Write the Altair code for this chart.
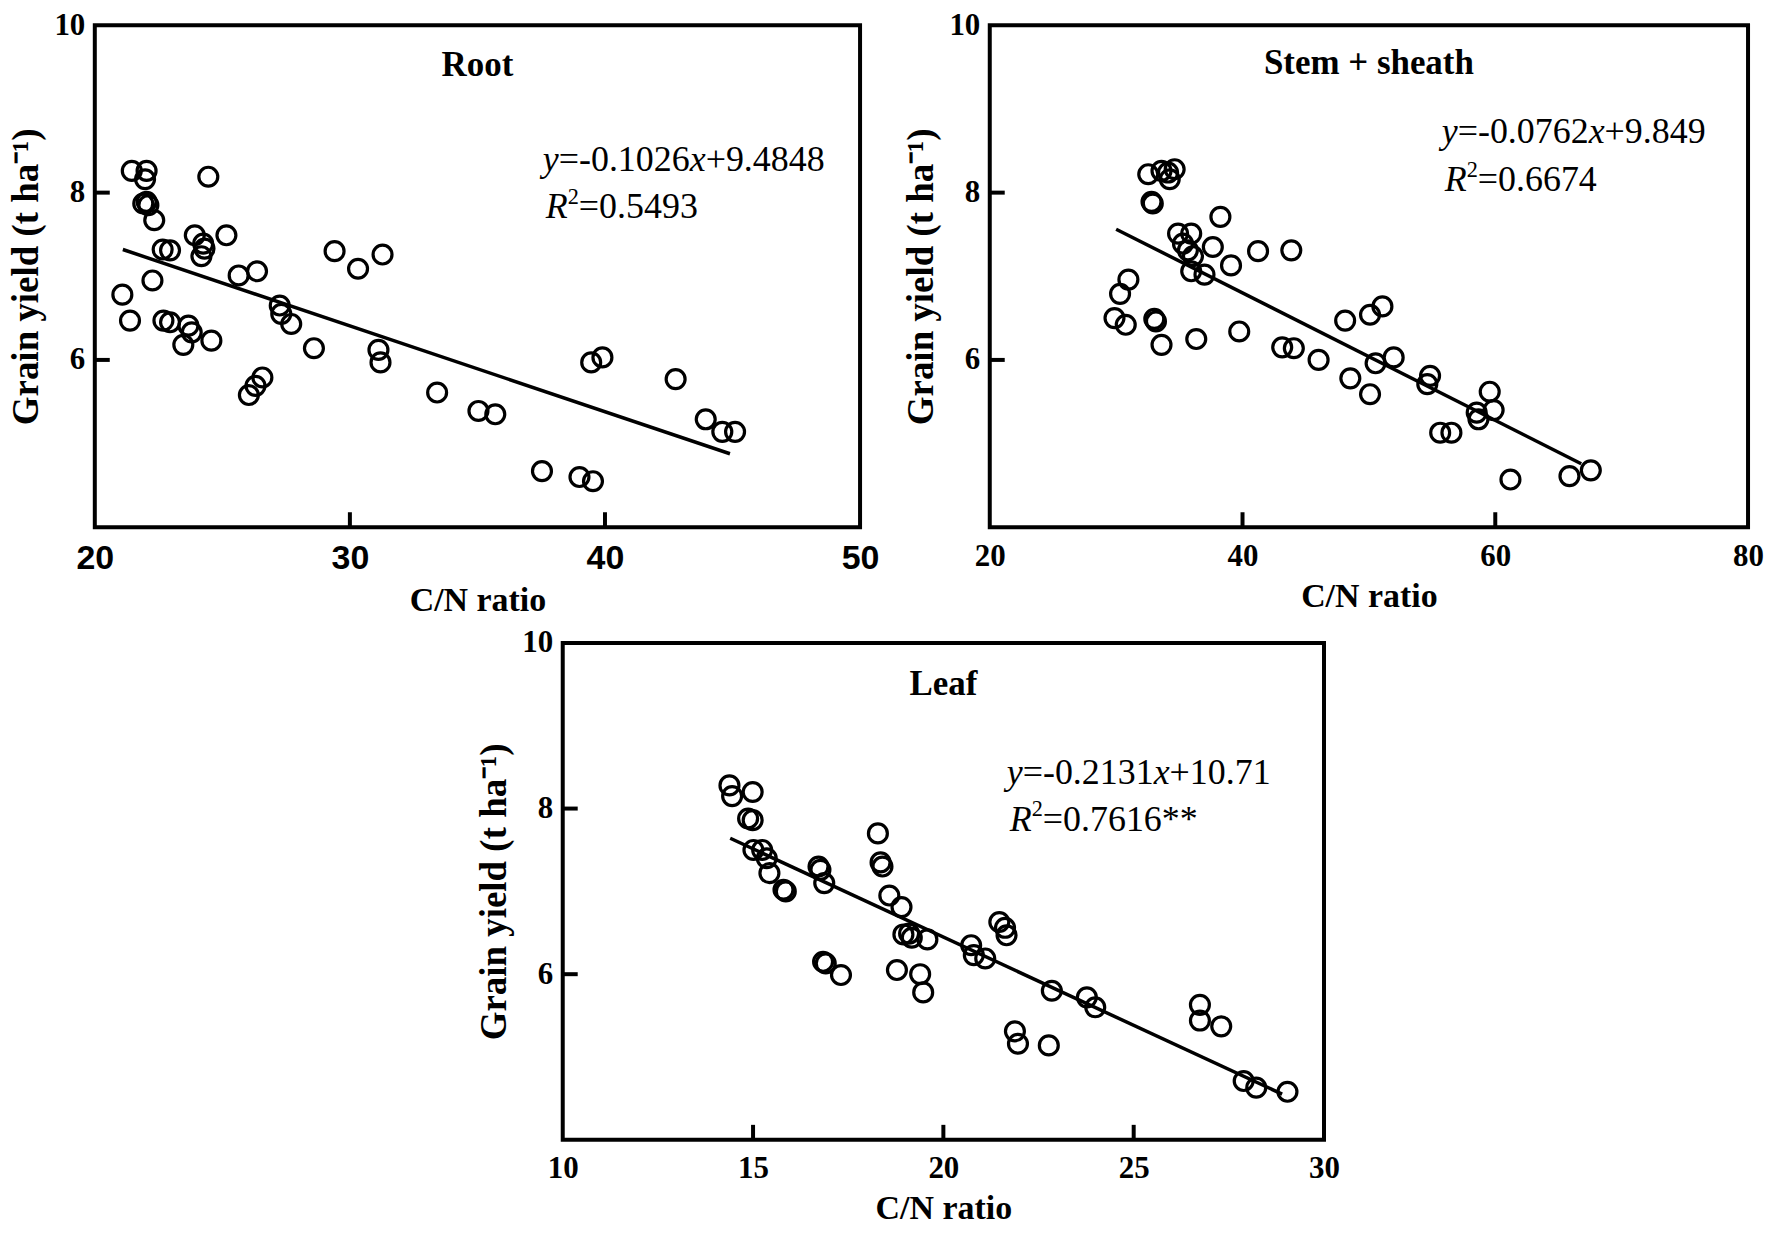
import altair as alt
import pandas as pd

SERIF = "Liberation Serif"
SANS = "Liberation Sans"

# ---- data ----
root_cn = [21.45, 22.03, 21.97, 21.9, 22.1, 22.03, 22.33, 24.45, 22.66, 22.95,
           23.92, 24.25, 24.18, 24.3, 25.16, 22.26, 21.08, 21.38, 22.69, 22.95,
           23.67, 23.8, 23.47, 24.57, 25.64, 26.36, 27.25, 27.31, 27.7, 28.59,
           29.4, 30.32, 31.28, 31.12, 31.2, 26.04, 26.3, 26.57, 33.42, 35.04,
           35.7, 37.53, 39.0, 39.53, 39.46, 39.9, 42.77, 43.95, 44.6, 45.1]
root_yield = [8.26, 8.26, 8.16, 7.87, 7.85, 7.89, 7.67, 8.19, 7.32, 7.31,
              7.49, 7.39, 7.24, 7.33, 7.49, 6.95, 6.78, 6.47, 6.47, 6.45,
              6.41, 6.33, 6.18, 6.23, 7.01, 7.06, 6.65, 6.55, 6.43, 6.14,
              7.3, 7.09, 7.26, 6.12, 5.97, 5.58, 5.69, 5.79, 5.61, 5.39,
              5.35, 4.67, 4.6, 4.55, 5.97, 6.03, 5.77, 5.29, 5.14, 5.14]

stem_cn = [32.54, 33.59, 34.24, 34.63, 34.11, 32.8, 32.9, 38.25, 34.9, 35.94,
           35.29, 35.68, 36.08, 37.65, 35.94, 36.99, 39.09, 41.23, 43.86, 30.97,
           30.31, 29.87, 30.76, 33.02, 33.15, 33.59, 36.34, 39.74, 43.14, 44.06,
           46.02, 48.12, 48.53, 50.09, 51.07, 50.53, 51.96, 50.09, 54.84, 54.62,
           58.53, 58.67, 59.56, 59.87, 55.64, 56.53, 61.2, 65.87, 67.56]
stem_yield = [8.22, 8.26, 8.16, 8.28, 8.24, 7.89, 7.87, 7.71, 7.51, 7.51,
              7.39, 7.31, 7.24, 7.35, 7.06, 7.02, 7.13, 7.3, 7.31, 6.96,
              6.79, 6.5, 6.42, 6.49, 6.46, 6.18, 6.25, 6.34, 6.15, 6.14,
              6.0, 6.47, 5.78, 6.54, 6.64, 5.96, 6.03, 5.59, 5.81, 5.71,
              5.37, 5.29, 5.62, 5.4, 5.13, 5.13, 4.57, 4.61, 4.68]

leaf_cn = [14.38, 14.45, 14.99, 14.87, 14.99, 15.01, 15.24, 15.36, 15.43, 15.8,
           15.86, 16.72, 16.77, 16.87, 16.84, 16.91, 17.31, 18.28, 18.35, 18.4,
           18.58, 18.9, 18.95, 19.1, 19.17, 19.58, 18.78, 19.39, 19.47, 20.73,
           20.8, 21.1, 21.47, 21.62, 21.66, 21.88, 21.96, 22.77, 22.85, 23.77,
           23.99, 26.74, 26.74, 27.3, 27.89, 28.22, 29.04]
leaf_yield = [8.28, 8.15, 8.2, 7.88, 7.86, 7.5, 7.5, 7.4, 7.22, 7.02,
              7.0, 7.3, 7.26, 7.1, 6.15, 6.13, 5.99, 7.7, 7.35, 7.3,
              6.95, 6.81, 6.48, 6.49, 6.44, 6.42, 6.05, 6.0, 5.78, 6.35,
              6.23, 6.19, 6.63, 6.56, 6.47, 5.31, 5.16, 5.14, 5.8, 5.72,
              5.6, 5.63, 5.44, 5.37, 4.71, 4.63, 4.58]

# fitted lines: slope, intercept, first x, last x
root_fit = (-0.1026, 9.4848, 21.1, 44.9)
stem_fit = (-0.0762, 9.849, 30.0, 66.8)
leaf_fit = (-0.2131, 10.71, 14.4, 28.9)

root_eq = ("-0.1026", "9.4848", "0.5493")
stem_eq = ("-0.0762", "9.849", "0.6674")
leaf_eq = ("-0.2131", "10.71", "0.7616**")

ONE = pd.DataFrame({"k": [0]})

# Times-like advance widths (per 1000 em) for placing mixed-style text
GLYPH_W = {".": 250, "=": 564, "-": 333, "+": 564, "*": 500, "y": 444, "x": 444, "R": 611}


def text_width(s, size):
    return sum(GLYPH_W.get(c, 500) for c in s) * size / 1000.0


def piece(txt, x, y, size, style="normal"):
    return alt.Chart(ONE).mark_text(
        text=txt, font=SERIF, fontSize=size, fontStyle=style,
        align="left", baseline="alphabetic", color="black"
    ).encode(x=alt.value(x), y=alt.value(y))


def equation(eq, x0, y0, rx, ry, size=36):
    slope, icpt, r2 = eq
    layers = []
    cur = x0
    for txt, style in [("y", "italic"), ("=" + slope, "normal"),
                       ("x", "italic"), ("+" + icpt, "normal")]:
        layers.append(piece(txt, cur, y0, size, style))
        cur += text_width(txt, size)
    cur = rx
    layers.append(piece("R", cur, ry, size, "italic"))
    cur += text_width("R", size)
    sup = size * 0.62
    layers.append(piece("2", cur, ry - size * 0.4, sup))
    cur += text_width("2", sup)
    layers.append(piece("=" + r2, cur, ry, size))
    return layers


def panel(name, xs, ys, fit, eq, xdom, xlabels, xinner, w, h,
          title_y, eq_pos, xfont=SERIF, xsize=31):
    pts = pd.DataFrame({"cn": xs, "gy": ys})
    xsc = alt.Scale(domain=xdom, nice=False, zero=False)
    ysc = alt.Scale(domain=[4, 10], nice=False, zero=False)
    xax = alt.Axis(values=xlabels, title="C/N ratio", labelFont=xfont, labelFontSize=xsize)
    yax = alt.Axis(values=[6, 8, 10], title="Grain yield (t ha⁻¹)")
    xenc = alt.X("cn:Q", scale=xsc, axis=xax)
    yenc = alt.Y("gy:Q", scale=ysc, axis=yax)

    points = alt.Chart(pts).mark_point(
        shape="circle", filled=False, color="black", strokeWidth=3.2, size=360, opacity=1
    ).encode(x=xenc, y=yenc)

    slope, icpt, x1, x2 = fit
    line_df = pd.DataFrame({"cn": [x1, x2], "gy": [slope * x1 + icpt, slope * x2 + icpt]})
    line = alt.Chart(line_df).mark_line(color="black", strokeWidth=3.5).encode(x=xenc, y=yenc)

    # inward tick marks
    ytick = alt.Chart(pd.DataFrame({"gy": [6, 8]})).mark_rule(color="black", strokeWidth=4).encode(
        x=alt.value(0), x2=alt.value(15), y=yenc,
    )
    xtick = alt.Chart(pd.DataFrame({"cn": xinner})).mark_rule(color="black", strokeWidth=4).encode(
        x=xenc, y=alt.value(h), y2=alt.value(h - 15),
    )

    frame = alt.Chart(ONE).mark_rect(fillOpacity=0, stroke="black", strokeWidth=4).encode(
        x=alt.value(0), x2=alt.value(w), y=alt.value(0), y2=alt.value(h)
    )

    ttl = alt.Chart(ONE).mark_text(
        text=name, font=SERIF, fontSize=35, fontWeight="bold", color="black",
        align="center", baseline="middle"
    ).encode(x=alt.value(w / 2), y=alt.value(title_y))

    eq_layers = equation(eq, *eq_pos)
    return alt.layer(points, line, ytick, xtick, frame, ttl, *eq_layers).properties(width=w, height=h)


root = panel("Root", root_cn, root_yield, root_fit, root_eq, [20, 50], [20, 30, 40, 50], [30, 40],
             767, 503, 40, (449, 146, 452, 193), xfont=SANS, xsize=34)
stem = panel("Stem + sheath", stem_cn, stem_yield, stem_fit, stem_eq, [20, 80], [20, 40, 60, 80], [40, 60],
             760, 503, 38, (453, 118, 456, 166))
leaf = panel("Leaf", leaf_cn, leaf_yield, leaf_fit, leaf_eq, [10, 30], [10, 15, 20, 25, 30], [15, 20, 25],
             763, 498, 41, (445, 141, 448, 188))

spacer = alt.Chart(ONE).mark_point(opacity=0).encode(
    x=alt.value(0), y=alt.value(0)
).properties(width=382, height=10)

top_row = alt.hconcat(root, stem, spacing=24)
bottom_row = alt.hconcat(spacer, leaf, spacing=0)

chart = alt.vconcat(top_row, bottom_row, spacing=10).properties(
    padding=0
).configure_view(
    strokeWidth=0
).configure_axis(
    domain=False, ticks=False, tickSize=0, grid=False,
    labelFont=SERIF, labelFontWeight="bold", labelFontSize=31, labelColor="black",
    titleFont=SERIF, titleFontWeight="bold", titleColor="black",
    labelOverlap=False, labelFlush=False,
).configure_axisX(
    labelPadding=14, titlePadding=8, titleFontSize=34
).configure_axisY(
    labelPadding=10, titlePadding=8, titleFontSize=37
)

chart.save("out.html", embed_options={"renderer": "svg", "actions": False})
